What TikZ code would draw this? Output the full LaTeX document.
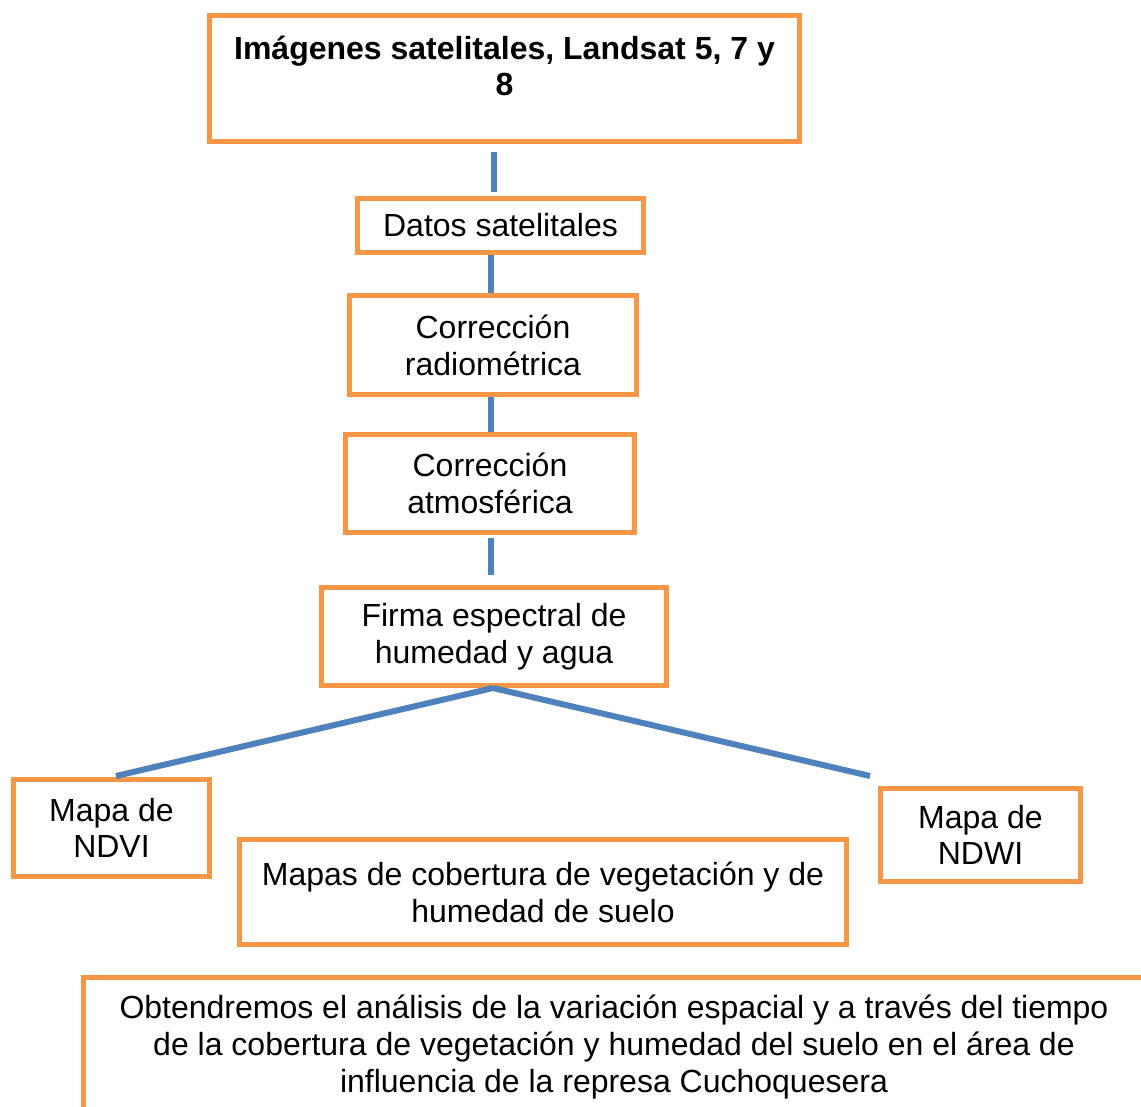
\documentclass[tikz,border=0pt]{standalone}
\usepackage{fontspec}
\setmainfont{Liberation Sans}
\definecolor{boxorange}{HTML}{F79646}
\definecolor{linkblue}{HTML}{4F81BD}
\begin{document}
\begin{tikzpicture}[x=1pt,y=-1pt,
  box/.style={draw=boxorange, line width=5pt, fill=white, rectangle, inner sep=0pt,
    align=center, font=\fontsize{32}{36.8}\selectfont},
  conn/.style={draw=linkblue, line width=6pt}]
\useasboundingbox (0,0) rectangle (1141,1107);
\fill[white] (0,0) rectangle (1141,1107);
% nodes
\node[box, minimum width=590pt, minimum height=126pt] (top) at (504.5,78.5) {};
\node[align=center, font=\fontsize{32}{36.8}\selectfont\bfseries] (toptext) at (504.5,66) {Imágenes satelitales, Landsat 5, 7 y\\8};
\node[box, minimum width=286pt, minimum height=54pt] (datos) at (500.5,225.5) {\raisebox{-4pt}{Datos satelitales}};
\node[box, minimum width=287pt, minimum height=99pt] (crad) at (493,345) {Corrección\\radiométrica};
\node[box, minimum width=289pt, minimum height=98pt] (catm) at (490,483.5) {Corrección\\atmosférica};
\node[box, minimum width=345pt, minimum height=98pt] (firma) at (494,636.5) {Firma espectral de\\humedad y agua};
\node[box, minimum width=196pt, minimum height=97pt] (ndvi) at (111.5,828) {Mapa de\\NDVI};
\node[box, minimum width=200pt, minimum height=93pt] (ndwi) at (980.5,835) {Mapa de\\NDWI};
\node[box, minimum width=607pt, minimum height=105pt] (mapas) at (543,892) {Mapas de cobertura de vegetación y de\\humedad de suelo};
\node[box, minimum width=1061pt, minimum height=139pt] (obt) at (614,1047) {Obtendremos el análisis de la variación espacial y a través del tiempo\\de la cobertura de vegetación y humedad del suelo en el área de\\influencia de la represa Cuchoquesera};
% connectors
\draw[conn] ([xshift=-10.5pt,yshift=-8pt]top.south) -- ([xshift=-6.5pt,yshift=4pt]datos.north);
\draw[conn] ([xshift=-9.5pt]datos.south) -- ([xshift=-2pt]crad.north);
\draw[conn] ([xshift=-2pt]crad.south) -- ([xshift=1pt]catm.north);
\draw[conn] ([xshift=1pt,yshift=-3pt]catm.south) -- ([xshift=-3pt,yshift=10pt]firma.north);
\draw[conn] ([xshift=-1pt]firma.south) -- ([xshift=4.5pt,yshift=1pt]ndvi.north);
\draw[conn] ([xshift=-1pt]firma.south) -- ([xshift=-8pt,yshift=10pt]ndwi.north west);
\end{tikzpicture}
\end{document}
